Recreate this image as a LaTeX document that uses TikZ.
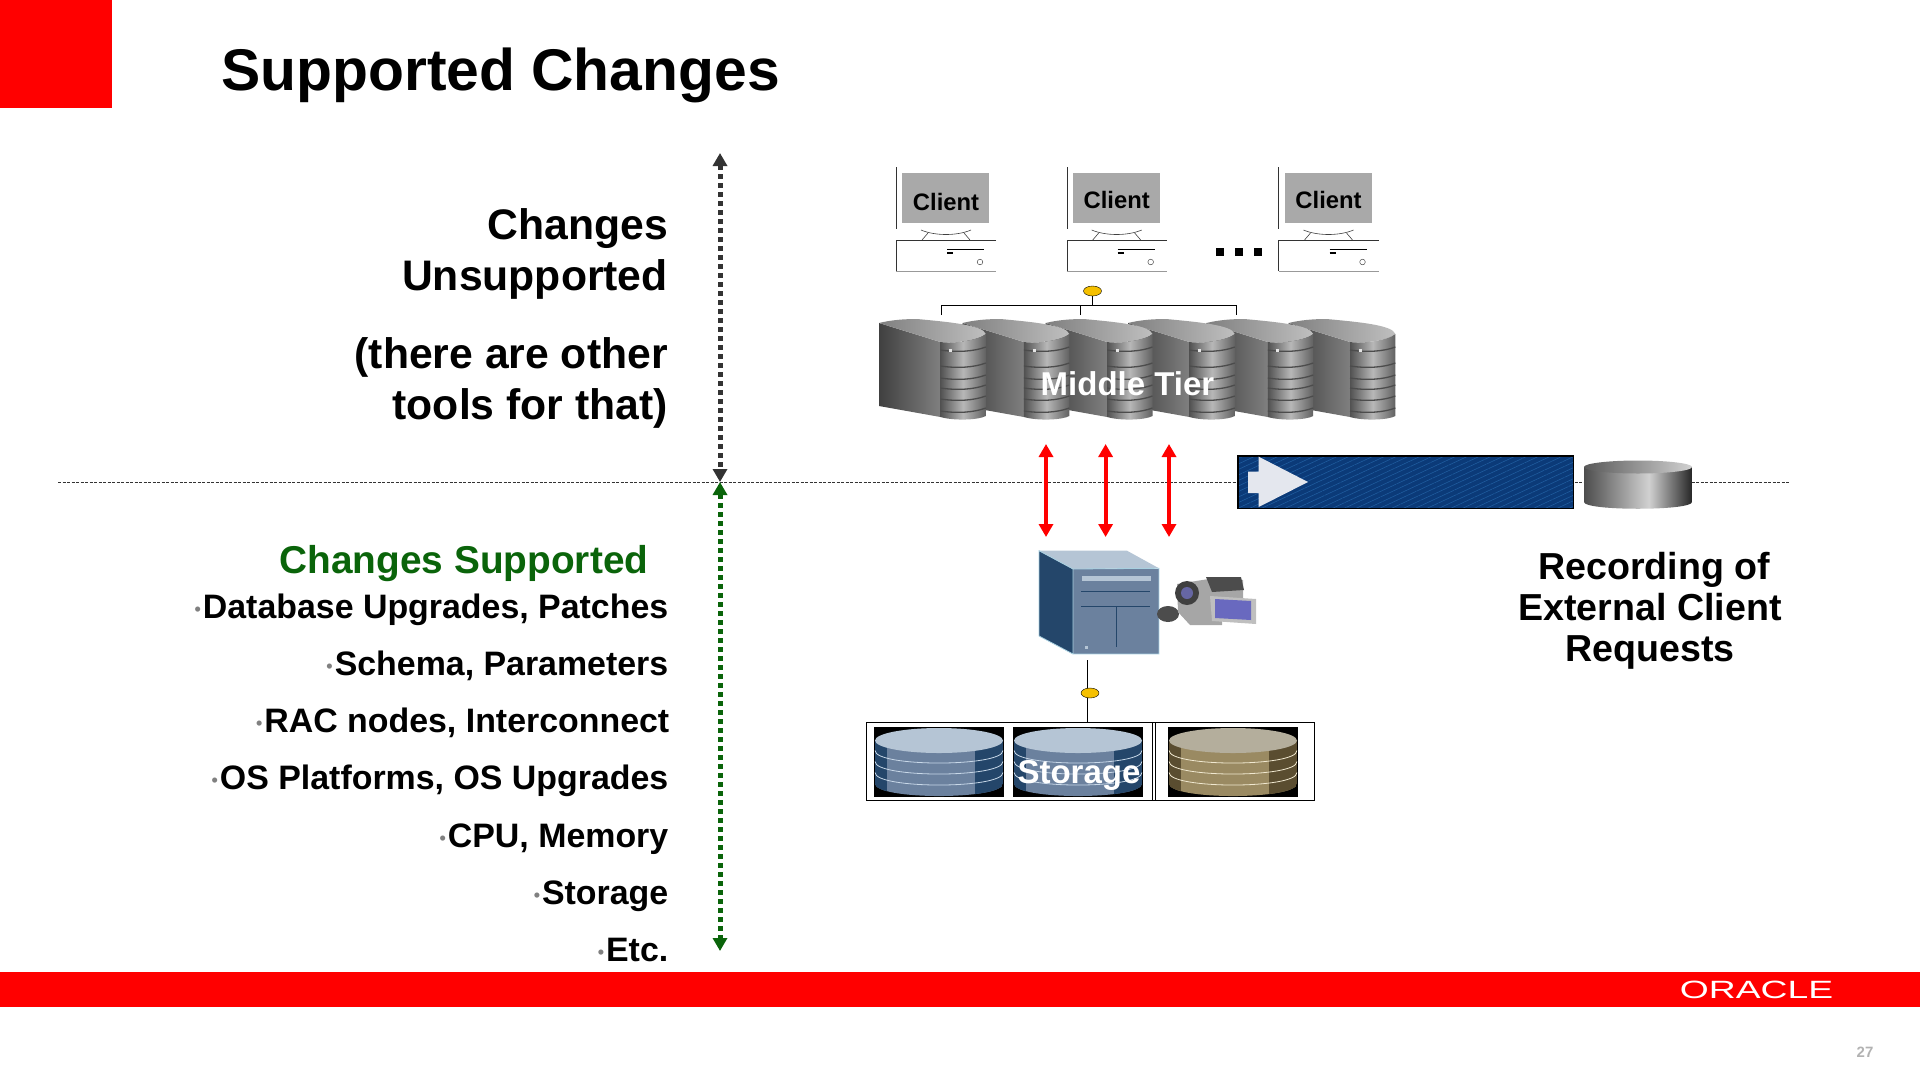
\documentclass[tikz,border=0pt]{standalone}
\usepackage{fontspec}
\setmainfont{Liberation Sans}
\usepackage{graphicx}
\usetikzlibrary{positioning,arrows.meta,shapes.geometric,patterns.meta}

\definecolor{oraclered}{HTML}{FF0000}
\definecolor{okgreen}{HTML}{0A640A}
\definecolor{darkarrow}{HTML}{333333}
\definecolor{hubyellow}{HTML}{F5C000}
\definecolor{screengray}{HTML}{A9A9A9}
\definecolor{recblue}{HTML}{0B3A78}
\definecolor{recline}{HTML}{1F5C9E}
\definecolor{recwhite}{HTML}{E4E7EE}
\definecolor{steeldark}{HTML}{24466A}
\definecolor{steeltop}{HTML}{B5C5D5}
\definecolor{steelbody}{HTML}{6B819E}
\definecolor{steelline}{HTML}{A8D0E0}
\definecolor{steelring}{HTML}{C8D8E8}
\definecolor{tantop}{HTML}{B4AE9C}
\definecolor{tanbody}{HTML}{9A8A62}
\definecolor{tandark}{HTML}{5A4D30}
\definecolor{tanring}{HTML}{F0E8D0}

\pgfdeclarehorizontalshading{drum}{100bp}{color(0bp)=(black!70); color(25bp)=(black!70); color(55bp)=(black!18); color(75bp)=(black!85); color(100bp)=(black!85)}
\pgfdeclarehorizontalshading{panel}{100bp}{color(0bp)=(black!68); color(25bp)=(black!68); color(50bp)=(black!28); color(75bp)=(black!62); color(100bp)=(black!62)}

\tikzset{
    head_text/.style={inner sep=0,font=\bfseries\fontsize{42.7}{51}\selectfont,align=right},
    list_text/.style={inner sep=0,anchor=base east,font=\bfseries\fontsize{33.9}{40}\selectfont},
    red_arrow/.style={oraclered,line width=4pt,{Triangle[length=13pt,width=14pt]}-{Triangle[length=13pt,width=14pt]}},
    dot_arrow/.style={line width=5pt,dash pattern=on 5pt off 4pt,
        {Triangle[length=13pt,width=14pt]}-{Triangle[length=13pt,width=14pt]}},
    hub/.style={ellipse,draw,fill=hubyellow,inner sep=0,minimum width=18pt,minimum height=10pt}
}

\newcommand{\listdot}{{\color{black!50}\raisebox{2.5pt}{\fontsize{18}{18}\selectfont\textbullet}}\kern2pt}

% one client: name, x shift, y of label
\newcommand{\clientpc}[3]{
  \begin{scope}[shift={(#2,0)}]
    \draw[black!80] (896,167) -- (896,229);
    \fill[screengray] (902,173) rectangle (989,223);
    \node (#1) [inner sep=0,font=\bfseries\fontsize{23.8}{26}\selectfont] at (946,#3) {Client};
    \draw[black!75,line width=0.6pt] (921,230) .. controls (935,236) and (957,236) .. (971,230);
    \draw[black!75,line width=0.6pt] (928,233) -- (922,240) (964,233) -- (970,240);
    \draw[black!80] (996,240) -- (896,240) -- (896,271);
    \draw[black!40] (896,271) -- (996,271);
    \draw[line width=1.6pt] (947,249.5) -- (984,249.5);
    \draw[line width=1.2pt] (947,253) -- (953,253);
    \draw[black!70,line width=0.5pt] (980,262) circle (2.8pt);
  \end{scope}
}

\newcommand{\serverline}[1]{\draw[black!70,line width=1.3pt] (61.4,#1) .. controls (78,#1+2.5) and (95,#1+1.5) .. (106.8,#1-3);}

% one server, drawn at x shift
\newcommand{\serverbox}[1]{
  \begin{scope}[shift={(#1,0)}]
    \shade[left color=black!75,right color=black!50] (0,323) -- (61.4,342) -- (61.4,417) -- (0,406) -- cycle;
    \shade[left color=black!50,right color=black!25] (0,323) .. controls (12,320) and (25,319) .. (38,319)
        .. controls (70,322) and (104,325) .. (106.8,334) .. controls (100,340) and (75,344) .. (61.4,342) -- cycle;
    \shade[shading=panel] (61.4,342)
        .. controls (75,344) and (100,340) .. (106.8,334) -- (106.8,416)
        .. controls (100,420) and (75,421) .. (61.4,417) -- cycle;
    \serverline{350}\serverline{366}\serverline{378}\serverline{388}\serverline{399}\serverline{411}
    \fill[black!10] (70,348.5) rectangle (73,351.5);
  \end{scope}
}

% one disk stack: x shift, top, body, side band, ring colour
\newcommand{\diskstack}[5]{
  \begin{scope}[shift={(#1,0)}]
    \fill[black] (0,727) rectangle (130,797);
    \begin{scope}
      \clip (1,740.5) -- (1,783.5) .. controls (1,800.2) and (129,800.2) .. (129,783.5) -- (129,740.5) -- cycle;
      \fill[#3] (1,735) rectangle (129,800);
      \fill[#4] (1,735) rectangle (13,800);
      \fill[#4] (101,735) rectangle (129,800);
    \end{scope}
    \draw[#5,line width=0.8pt] (1,750.5) .. controls (1,767.2) and (129,767.2) .. (129,750.5);
    \draw[#5,line width=0.8pt] (1,761.5) .. controls (1,778.2) and (129,778.2) .. (129,761.5);
    \draw[#5,line width=0.8pt] (1,772.5) .. controls (1,789.2) and (129,789.2) .. (129,772.5);
    \fill[#2] (65,740.5) ellipse [x radius=64,y radius=12.5];
  \end{scope}
}

\begin{document}
\begin{tikzpicture}[x=1pt,y=-1pt]
    \useasboundingbox (0,0) rectangle (1920,1080);

    % Slide frame
    \fill[oraclered] (0,0) rectangle (112,108);
    \fill[oraclered] (0,972) rectangle (1920,1007);
    \node (title) [inner sep=0,anchor=base west,font=\bfseries\fontsize{58.8}{70}\selectfont] at (221,90) {Supported Changes};
    \node (logo) [inner sep=0,text=white,font=\fontsize{25}{25}\selectfont] at (1756.5,990) {\scalebox{1.49}[1]{ORACLE}};
    \node (page_no) [inner sep=0,text=black!30,font=\bfseries\fontsize{15}{15}\selectfont] at (1865,1052) {27};

    % Dashed divide
    \coordinate (rule_left) at (58,482);
    \coordinate (rule_right) at (1790,482);
    \draw[darkarrow,line width=0.8pt,dash pattern=on 3pt off 1.5pt] (rule_left) -- (rule_right);

    % Left texts
    \node (unsupported) [head_text,anchor=north east] at (668,208) {Changes\\Unsupported};
    \node (other_tools) [head_text,anchor=north east] at (668,337) {(there are other\\tools for that)};
    \node (supported) [inner sep=0,anchor=base east,text=okgreen,font=\bfseries\fontsize{38.8}{44}\selectfont] at (648.5,573) {Changes Supported};
    \node (item1) [list_text] at (668.5,618) {\listdot Database Upgrades, Patches};
    \node (item2) [list_text] at (668.5,675) {\listdot Schema, Parameters};
    \node (item3) [list_text] at (669.5,732) {\listdot RAC nodes, Interconnect};
    \node (item4) [list_text] at (668.5,789) {\listdot OS Platforms, OS Upgrades};
    \node (item5) [list_text] at (668.5,847) {\listdot CPU, Memory};
    \node (item6) [list_text] at (668.5,904) {\listdot Storage};
    \node (item7) [list_text] at (668.5,961) {\listdot Etc.};

    % Vertical arrows
    \coordinate (up_top) at (720,153);
    \coordinate (up_bottom) at (720,482);
    \coordinate (down_top) at (720,482);
    \coordinate (down_bottom) at (720,951);
    \draw[dot_arrow,darkarrow] (up_top) -- (up_bottom);
    \draw[dot_arrow,okgreen] (down_top) -- (down_bottom);

    % Clients
    \clientpc{client1}{0}{202}
    \clientpc{client2}{170.7}{200}
    \clientpc{client3}{382.5}{200}
    \fill (1216,248) rectangle (1224,256);
    \fill (1235,248) rectangle (1243,256);
    \fill (1254,248) rectangle (1262,256);

    % Client bus
    \node (hub_top) [hub] at (1092.5,291) {};
    \coordinate (bus_mid) at (1092.5,305);
    \coordinate (bus_left) at (941.4,305);
    \coordinate (bus_right) at (1235.7,305);
    \coordinate (drop_left) at (941.4,315);
    \coordinate (drop_mid) at (1080.4,315);
    \coordinate (drop_right) at (1235.7,315);
    \draw (hub_top) -- (bus_mid);
    \draw (drop_left) -- (bus_left) -- (bus_right) -- (drop_right);
    \draw (drop_mid) -- (drop_mid |- bus_left);

    % Middle tier
    \serverbox{1288.6}
    \serverbox{1206.4}
    \serverbox{1128}
    \serverbox{1045.7}
    \serverbox{962.5}
    \serverbox{879}
    \node (middle_tier) [inner sep=0,text=white,font=\bfseries\fontsize{33}{36}\selectfont] at (1127.5,384) {Middle Tier};

    % Calls between the tiers
    \coordinate (call1_top) at (1046,444);
    \coordinate (call1_bottom) at (1046,537);
    \coordinate (call2_top) at (1105.6,444);
    \coordinate (call2_bottom) at (1105.6,537);
    \coordinate (call3_top) at (1169,444);
    \coordinate (call3_bottom) at (1169,537);
    \draw[red_arrow] (call1_top) -- (call1_bottom);
    \draw[red_arrow] (call2_top) -- (call2_bottom);
    \draw[red_arrow] (call3_top) -- (call3_bottom);

    % Recording bar
    \fill[recblue] (1238,456) rectangle (1573.5,508.7);
    \fill[pattern={Lines[angle=25,distance=5pt,line width=0.6pt]},pattern color=recline] (1238,456) rectangle (1573.5,508.7);
    \draw[black,line width=1.5pt] (1238,456) rectangle (1573.5,508.7);
    \fill[recwhite] (1248,471.7) -- (1258.7,471.7) -- (1258.7,456.7) -- (1308,482) -- (1258.7,507) -- (1258.7,493) -- (1248,493) -- cycle;

    % Capture file
    \shade[shading=drum] (1584,467) -- (1584,502)
        .. controls (1584,511) and (1692,511) .. (1692,502) -- (1692,467) -- cycle;
    \shade[left color=black!65,right color=black!18] (1638,467) ellipse [x radius=54,y radius=6.5];

    \node (recording) [inner sep=0,align=center,font=\bfseries\fontsize{37.6}{41}\selectfont] at (1650,611) {\hspace*{8pt}Recording of\\External Client\\Requests};

    % Database tower
    \fill[steeldark] (1039,550.7) -- (1073,569) -- (1073,654) -- (1039,636) -- cycle;
    \fill[steeltop] (1039,550.7) -- (1127,550.7) -- (1159,568.3) -- (1073,569) -- cycle;
    \fill[steelbody] (1073,569) rectangle (1159,654);
    \draw[steelline,line width=0.8pt] (1039,550.7) -- (1039,636) -- (1073,654) -- (1159,654) -- (1159,568.3) -- (1073,569) -- cycle (1073,569) -- (1073,654);
    \fill[steeltop] (1081.5,575.7) rectangle (1150.6,580.7);
    \draw[steeldark,line width=0.7pt] (1081,591.7) -- (1150,591.7) (1081,606.7) -- (1150,606.7);
    \draw[steeldark,line width=0.7pt] (1116,607) -- (1116,647);
    \fill[steeltop] (1085,645.5) rectangle (1088,648.5);

    % Camera
    \fill[black!70] (1168,614) ellipse [x radius=11,y radius=8];
    \fill[black!35] (1177,584) -- (1215,578) -- (1243,580) -- (1243,598) -- (1222,600) -- (1222,625) -- (1190,625) -- (1178,612) -- cycle;
    \fill[black!70] (1206,577) -- (1241,577) -- (1244,590) -- (1212,592) -- cycle;
    \fill[black!75] (1187,593) circle (12pt);
    \fill[blue!40!black!60] (1187,593) circle (6pt);
    \fill[black!25] (1210,596) -- (1256,599) -- (1256,624) -- (1212,621) -- cycle;
    \fill[blue!45!white!75!black] (1215,599) -- (1251,601) -- (1251,620) -- (1215,618) -- cycle;

    % Storage
    \coordinate (tower_base) at (1087.5,660);
    \coordinate (storage_top) at (1087.5,722.3);
    \draw (tower_base) -- (storage_top);
    \node (hub_low) [hub] at (1090,693) {};
    \draw (866.5,722.3) rectangle (1314.6,800.3);
    \draw[line width=0.7pt] (1152.8,722.3) -- (1152.8,800.3) (1155,722.3) -- (1155,800.3);
    \diskstack{874}{steeltop}{steelbody}{steeldark}{steelring}
    \diskstack{1013}{steeltop}{steelbody}{steeldark}{steelring}
    \diskstack{1168}{tantop}{tanbody}{tandark}{tanring}
    \node (storage) [inner sep=0,text=white,font=\bfseries\fontsize{33}{36}\selectfont] at (1079,775) {Storage};
\end{tikzpicture}
\end{document}
